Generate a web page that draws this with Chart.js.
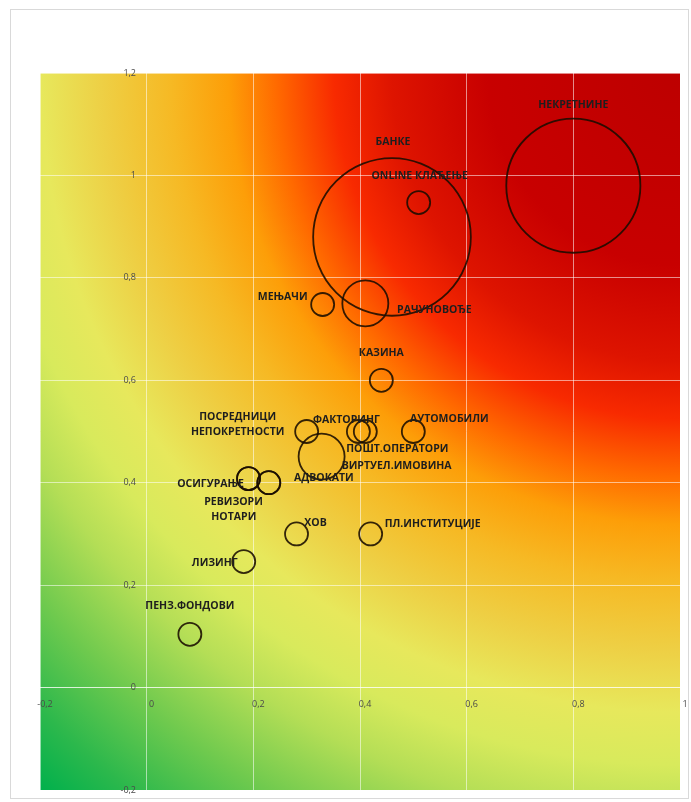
<!DOCTYPE html>
<html>
<head>
<meta charset="utf-8">
<script src="https://cdn.jsdelivr.net/npm/chart.js@4.4.1/dist/chart.umd.min.js"></script>
<style>
  html, body { margin: 0; padding: 0; background: #fff; }
  #okvir { position: relative; width: 691px; height: 802px; }
  #ivica { position: absolute; left: 10px; top: 9px; width: 679px; height: 790px; border: 1px solid #d9d9d9; box-sizing: border-box; }
  #grafik { position: absolute; left: 0; top: 0; }
</style>
</head>
<body>
<div id="okvir">
  <div id="ivica"></div>
  <canvas id="grafik" width="691" height="802"></canvas>
</div>
<script>
  /*
    ==================================================
    ===================== PODACI =====================
    ==================================================
  */

  const nazivi = [
    ['НЕКРЕТНИНЕ'], ['БАНКЕ'], ['ONLINE КЛАЂЕЊЕ'], ['МЕЊАЧИ'], ['РАЧУНОВОЂЕ'],
    ['КАЗИНА'], ['ПОСРЕДНИЦИ', 'НЕПОКРЕТНОСТИ'], ['ФАКТОРИНГ'], ['ПОШТ.ОПЕРАТОРИ'],
    ['АУТОМОБИЛИ'], ['ВИРТУЕЛ.ИМОВИНА'], ['АДВОКАТИ'], ['ОСИГУРАЊЕ'], ['РЕВИЗОРИ'],
    ['НОТАРИ'], ['ХОВ'], ['ПЛ.ИНСТИТУЦИЈЕ'], ['ЛИЗИНГ'], ['ПЕНЗ.ФОНДОВИ']
  ];
  const xVrednosti = [0.80, 0.46, 0.51, 0.33, 0.41, 0.44, 0.30, 0.397, 0.41, 0.50, 0.328, 0.229, 0.191, 0.191, 0.229, 0.281, 0.42, 0.182, 0.081];
  const yVrednosti = [0.98, 0.88, 0.947, 0.748, 0.75, 0.60, 0.50, 0.50, 0.50, 0.50, 0.451, 0.40, 0.408, 0.408, 0.40, 0.30, 0.30, 0.246, 0.104];
  const velicine = [34, 47, 1, 1, 4, 1, 1, 1, 1, 1, 4, 1, 1, 1, 1, 1, 1, 1, 1];

  const xTikovi = [-0.2, 0, 0.2, 0.4, 0.6, 0.8, 1];
  const yTikovi = [-0.2, 0, 0.2, 0.4, 0.6, 0.8, 1, 1.2];

  // pomeraj natpisa od centra mehura (px)
  const pomeraji = [
    [0, -81], [1, -95], [1, -27], [-40, -7], [69, 7],
    [0, -27], [-69, -14], [-12, -11], [32, 18],
    [36, -12], [75, 9], [55, -5], [-38, 5], [-15, 23],
    [-35, 34], [19, -11], [62, -10], [-29, 1], [0, -28]
  ];

  const zarez = v => String(+Number(v).toFixed(1)).replace('.', ',');

  /*
    ==================================================
    ==================== PLUGINOVI ===================
    ==================================================
  */

  let pozadina = {
    id: 'pozadina',
    beforeDraw(chart) {
      let { ctx, chartArea: a } = chart;
      let R = Math.hypot(a.right - a.left, a.bottom - a.top);
      let g = ctx.createRadialGradient(a.right, a.top, 0, a.right, a.top, R);
      g.addColorStop(0.00, '#bd0000');
      g.addColorStop(0.20, '#c80000');
      g.addColorStop(0.30, '#de1400');
      g.addColorStop(0.36, '#f82a00');
      g.addColorStop(0.42, '#ff6a00');
      g.addColorStop(0.47, '#fd9e08');
      g.addColorStop(0.53, '#f6b924');
      g.addColorStop(0.60, '#eecf44');
      g.addColorStop(0.665, '#e7e85c');
      g.addColorStop(0.72, '#d8ea5c');
      g.addColorStop(0.78, '#b4de56');
      g.addColorStop(0.86, '#70ca4e');
      g.addColorStop(0.94, '#2cb84c');
      g.addColorStop(1.00, '#00b04c');
      ctx.save();
      ctx.fillStyle = g;
      ctx.fillRect(a.left, a.top, a.right - a.left, a.bottom - a.top);
      ctx.restore();
    }
  };

  let natpisi = {
    id: 'natpisi',
    afterDatasetsDraw(chart) {
      let ctx = chart.ctx;
      let meta = chart.getDatasetMeta(0);
      ctx.save();
      ctx.font = 'bold 10.5px "Open Sans"';
      ctx.fillStyle = '#1e1e1e';
      ctx.textAlign = 'center';
      ctx.textBaseline = 'middle';
      meta.data.forEach((el, i) => {
        let [dx, dy] = pomeraji[i];
        nazivi[i].forEach((linija, j) => {
          ctx.fillText(linija, el.x + dx, el.y + dy + j * 15);
        });
      });
      ctx.restore();
    }
  };

  /*
    ==================================================
    ===================== GRAFIK =====================
    ==================================================
  */

  let linijaMreze = 'rgba(255, 255, 255, 0.55)';
  let fontTikova = { family: '"Open Sans"', size: 9 };
  let bezPadinga = s => { s.paddingLeft = 0; s.paddingRight = 0; s.paddingTop = 0; s.paddingBottom = 0; };

  new Chart(document.getElementById('grafik').getContext('2d'), {
    type: 'bubble',
    data: {
      datasets: [{
        data: xVrednosti.map((x, i) => ({ x, y: yVrednosti[i], r: 11.5 * Math.sqrt(velicine[i]) })),
        backgroundColor: 'rgba(0, 0, 0, 0)',
        borderColor: 'rgba(25, 12, 0, 0.88)',
        borderWidth: 1.8
      }]
    },
    options: {
      responsive: false,
      animation: false,
      events: [],
      layout: { autoPadding: false, padding: { left: 40, top: 73, right: 11, bottom: 12 } },
      plugins: { legend: { display: false }, tooltip: { enabled: false } },
      scales: {
        x: {
          type: 'linear',
          position: { y: 0 },
          min: xTikovi[0],
          max: xTikovi[xTikovi.length - 1],
          afterBuildTicks: s => { s.ticks = xTikovi.map(v => ({ value: v })); },
          afterFit: bezPadinga,
          grid: { color: linijaMreze, drawTicks: false },
          border: { color: linijaMreze },
          ticks: { callback: zarez, color: '#4a4a4a', font: fontTikova, padding: 11, labelOffset: 5, maxRotation: 0 }
        },
        y: {
          type: 'linear',
          // natpisi osovine malo levo od x=0 (linija x=0 dolazi iz mreze x ose)
          position: { x: -0.02 },
          min: yTikovi[0],
          max: yTikovi[yTikovi.length - 1],
          afterBuildTicks: s => { s.ticks = yTikovi.map(v => ({ value: v })); },
          afterFit: bezPadinga,
          grid: { color: linijaMreze, drawTicks: false },
          border: { display: false },
          ticks: { callback: zarez, color: '#4a4a4a', font: fontTikova, padding: 0 }
        }
      }
    },
    plugins: [pozadina, natpisi]
  });
</script>
</body>
</html>
